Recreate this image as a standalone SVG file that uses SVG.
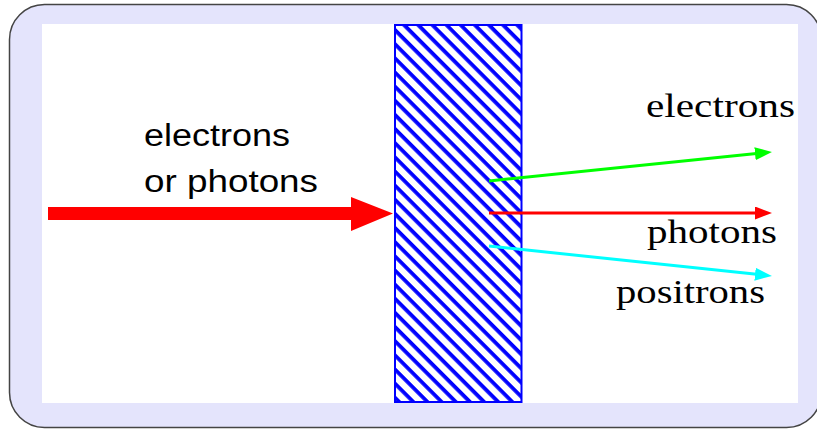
<svg xmlns="http://www.w3.org/2000/svg" width="817" height="429" viewBox="0 0 817 429">
  <defs>
    <pattern id="hatch" patternUnits="userSpaceOnUse" width="10" height="10" patternTransform="rotate(45)">
      <rect x="0" y="0" width="10" height="10" fill="#ffffff"/>
      <rect x="0" y="0" width="10" height="3.8" fill="#0000ff"/>
    </pattern>
    <marker id="ah-green" markerUnits="userSpaceOnUse" markerWidth="17" markerHeight="13" refX="4" refY="6.5" orient="auto">
      <path d="M0,0 L17,6.5 L0,13 z" fill="#00ff00"/>
    </marker>
    <marker id="ah-red" markerUnits="userSpaceOnUse" markerWidth="17" markerHeight="13" refX="4" refY="6.5" orient="auto">
      <path d="M0,0 L17,6.5 L0,13 z" fill="#ff0000"/>
    </marker>
    <marker id="ah-cyan" markerUnits="userSpaceOnUse" markerWidth="17" markerHeight="13" refX="4" refY="6.5" orient="auto">
      <path d="M0,0 L17,6.5 L0,13 z" fill="#00ffff"/>
    </marker>
  </defs>
  <style>
    .sans { font-family: "Liberation Sans", Arial, sans-serif; font-size: 31px; fill: #000; }
    .serif { font-family: "Liberation Serif", "Times New Roman", serif; font-size: 34px; fill: #000; }
    .ray { fill: none; stroke-width: 3; }
  </style>

  <g id="frame">
    <rect x="9.5" y="4.5" width="812" height="423" rx="35" ry="35" fill="#e4e4fc" stroke="#444444" stroke-width="1.5"/>
    <rect x="42" y="24" width="756" height="379" fill="#ffffff"/>
  </g>

  <g id="absorber">
    <rect x="395" y="25" width="126.5" height="377" fill="url(#hatch)" stroke="#0000ff" stroke-width="2"/>
  </g>

  <g id="connectors">
    <path id="incoming" d="M48,207 L351,207 L351,197 L393,213.5 L351,231 L351,220 L48,220 Z" fill="#ff0000"/>
    <line class="ray" x1="489" y1="181" x2="759" y2="153.3" stroke="#00ff00" marker-end="url(#ah-green)"/>
    <line class="ray" x1="489" y1="213" x2="759" y2="213" stroke="#ff0000" marker-end="url(#ah-red)"/>
    <line class="ray" x1="489" y1="246" x2="759" y2="274.6" stroke="#00ffff" marker-end="url(#ah-cyan)"/>
  </g>

  <g id="label-incoming">
    <text class="sans" x="144" y="146" textLength="146" lengthAdjust="spacingAndGlyphs">electrons</text>
    <text class="sans" x="144" y="192" textLength="174" lengthAdjust="spacingAndGlyphs">or photons</text>
  </g>
  <g id="label-electrons">
    <text class="serif" x="646" y="117" textLength="149" lengthAdjust="spacingAndGlyphs">electrons</text>
  </g>
  <g id="label-photons">
    <text class="serif" x="647" y="243" textLength="130" lengthAdjust="spacingAndGlyphs">photons</text>
  </g>
  <g id="label-positrons">
    <text class="serif" x="616" y="303" textLength="149" lengthAdjust="spacingAndGlyphs">positrons</text>
  </g>
</svg>
